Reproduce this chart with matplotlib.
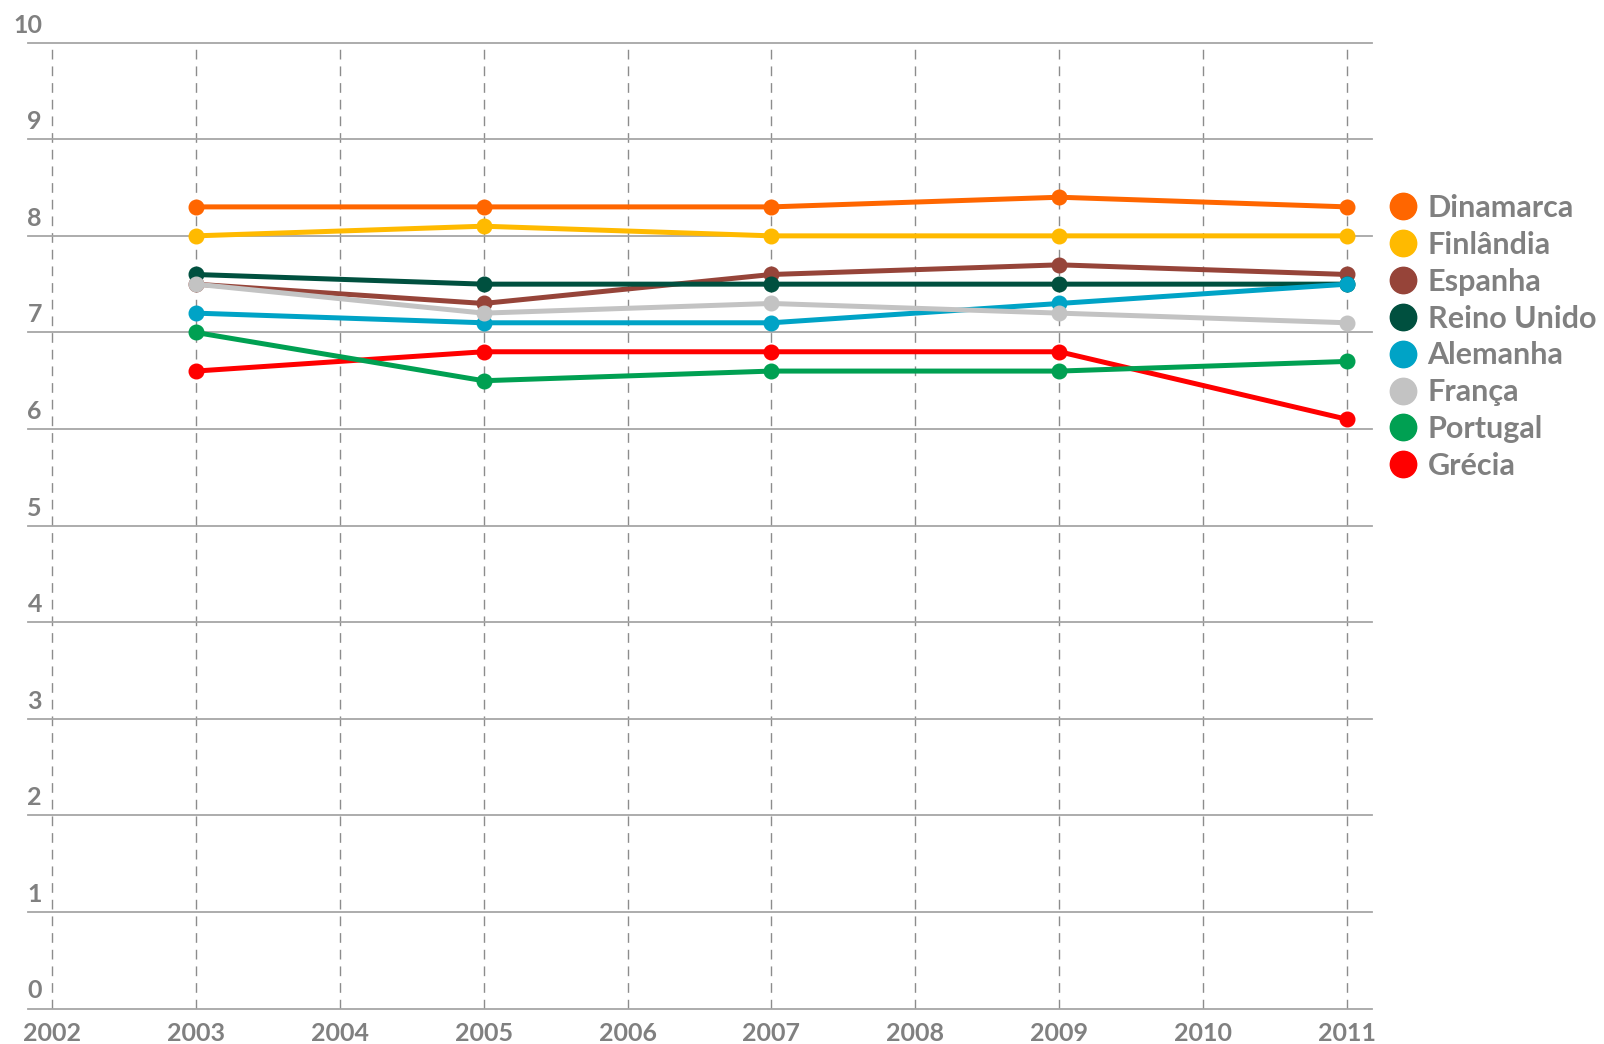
import matplotlib
matplotlib.use("Agg")
import matplotlib.pyplot as plt
from matplotlib.lines import Line2D
from matplotlib.transforms import ScaledTranslation

years = [2003, 2005, 2007, 2009, 2011]
countries = ["Dinamarca", "Finlândia", "Espanha", "Reino Unido",
             "Alemanha", "França", "Portugal", "Grécia"]
dinamarca = [8.3, 8.3, 8.3, 8.4, 8.3]
finlandia = [8.0, 8.1, 8.0, 8.0, 8.0]
espanha = [7.5, 7.3, 7.6, 7.7, 7.6]
reino_unido = [7.6, 7.5, 7.5, 7.5, 7.5]
alemanha = [7.2, 7.1, 7.1, 7.3, 7.5]
franca = [7.5, 7.2, 7.3, 7.2, 7.1]
portugal = [7.0, 6.5, 6.6, 6.6, 6.7]
grecia = [6.6, 6.8, 6.8, 6.8, 6.1]
series = [dinamarca, finlandia, espanha, reino_unido, alemanha, franca, portugal, grecia]
colors = ["#FF6600", "#FFBA00", "#964439", "#00503F", "#00A3C6", "#C3C3C3", "#00A052", "#FF0000"]
zorders = [3, 3.1, 3.2, 3.3, 3.4, 3.5, 3.7, 3.6]
x_ticks = list(range(2002, 2012))
y_ticks = list(range(0, 11))

plt.rcParams['font.family'] = ['Lato', 'DejaVu Sans']
text_color = "#808080"

fig = plt.figure(figsize=(16.04, 10.44), dpi=100)
ax = fig.add_axes([28/1604, 1 - 1008.5/1044, (1372-28)/1604, (1008.5-42.7)/1044])

for vals, col, z in zip(series, colors, zorders):
    ax.plot(years, vals, color=col, lw=3.6, marker='o', markersize=10.5,
            solid_capstyle='round', zorder=z, clip_on=False)

ax.set_xlim(2002 - 23.7/144, 2011 + 24.7/144)
ax.set_ylim(0, 10)
ax.set_xticks(x_ticks)
ax.set_xticklabels([str(v) for v in x_ticks])
ax.set_yticks(y_ticks)
ax.set_yticklabels([str(v) for v in y_ticks])

for s in ax.spines.values():
    s.set_visible(False)

ax.yaxis.grid(True, color="#A6A6A6", lw=1.3, linestyle='-', zorder=1)
ax.xaxis.grid(True, color="#8C8C8C", lw=1.0, linestyle=(0, (7, 5)), zorder=1)
for gl in ax.get_ygridlines():
    gl.set_clip_on(False)
ax.set_axisbelow(True)

ax.tick_params(axis='both', length=0, labelsize=18, labelcolor=text_color)
ax.tick_params(axis='x', pad=10)
ax.tick_params(axis='y', pad=0)
for lab in ax.get_yticklabels():
    lab.set_verticalalignment('bottom')
    lab.set_transform(lab.get_transform() + ScaledTranslation(14/100, 6/100, fig.dpi_scale_trans))
for lab in ax.get_xticklabels() + ax.get_yticklabels():
    lab.set_fontweight('bold')

handles = [Line2D([], [], marker='o', linestyle='none', color=c, markersize=19) for c in colors]
leg = fig.legend(handles, countries, loc='upper left',
                 bbox_to_anchor=(1389/1604, 1 - 194/1044),
                 frameon=False, borderpad=0, borderaxespad=0,
                 handlelength=0.9, handletextpad=0.36, labelspacing=0.29,
                 prop={'size': 22, 'weight': 'bold'})
for t in leg.get_texts():
    t.set_color(text_color)

fig.savefig("out.png", dpi=100)
